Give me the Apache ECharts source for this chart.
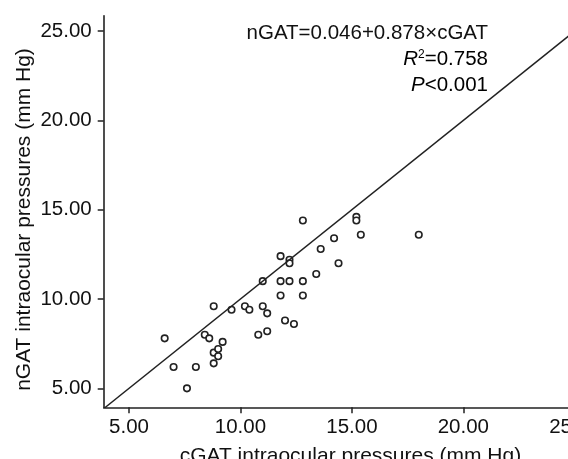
<!DOCTYPE html>
<html>
<head>
<meta charset="utf-8">
<script src="https://cdn.jsdelivr.net/npm/echarts@6/dist/echarts.min.js"></script>
<style>
html,body{margin:0;padding:0;background:#fff;}
#chart{width:568px;height:459px;}
</style>
</head>
<body>
<div id="chart"></div>
<script>
const cGAT = [6.6,7.0,7.6,8.0,8.4,8.6,8.8,8.8,9.0,9.0,8.8,9.2,9.6,10.2,10.4,11.0,11.0,11.2,10.8,11.2,11.8,12.2,12.2,11.8,12.2,12.8,11.8,12.8,12.0,12.4,12.8,13.4,13.6,14.2,14.4,15.2,15.2,15.4,18.0];
const nGAT = [7.8,6.2,5.0,6.2,8.0,7.8,9.6,7.0,7.2,6.8,6.4,7.6,9.4,9.6,9.4,11.0,9.6,9.2,8.0,8.2,12.4,12.2,12.0,11.0,11.0,11.0,10.2,10.2,8.8,8.6,14.4,11.4,12.8,13.4,12.0,14.6,14.4,13.6,13.6];
const xTicks = [5, 10, 15, 20, 25];
const yTicks = [5, 10, 15, 20, 25];
const refLine = [[3.8, 3.8], [26.5, 26.5]];
const xTitle = 'cGAT intraocular pressures (mm Hg)';
const yTitle = 'nGAT intraocular pressures (mm Hg)';
const eqText = 'nGAT=0.046+0.878×cGAT';

const FONT = '"Liberation Sans", Arial, sans-serif';
const INK = '#222';
const FS = 20.5;

const chart = echarts.init(document.getElementById('chart'), null, {renderer: 'canvas'});
const axisCommon = {
  type: 'value',
  splitLine: {show: false},
  axisLine: {show: true, lineStyle: {color: INK, width: 1.6}},
  axisTick: {show: true, length: 6, lineStyle: {color: INK, width: 1.5}},
  axisLabel: {color: '#111', fontSize: FS, fontFamily: FONT, formatter: v => v.toFixed(2)},
  nameLocation: 'middle',
  nameTextStyle: {color: '#111', fontSize: 21, fontFamily: FONT}
};
chart.setOption({
  animation: false,
  backgroundColor: '#fff',
  grid: {left: 103.7, top: 15.7, right: -29.1, bottom: 51.7, containLabel: false, outerBoundsMode: 'none'},
  xAxis: Object.assign({}, axisCommon, {
    min: 3.865, max: 26,
    name: xTitle, nameGap: 38,
    axisTick: Object.assign({}, axisCommon.axisTick, {customValues: xTicks}),
    axisLabel: Object.assign({}, axisCommon.axisLabel, {customValues: xTicks, margin: 10})
  }),
  yAxis: Object.assign({}, axisCommon, {
    min: 3.94, max: 25.86,
    name: yTitle, nameGap: 69, nameMoveOverlap: false,
    nameTextStyle: {color: '#111', fontSize: 21, fontFamily: FONT, padding: [0, 16, 0, 0]},
    axisTick: Object.assign({}, axisCommon.axisTick, {customValues: yTicks}),
    axisLabel: Object.assign({}, axisCommon.axisLabel, {customValues: yTicks, margin: 12})
  }),
  series: [
    {
      type: 'line',
      data: refLine,
      symbol: 'none',
      clip: true,
      lineStyle: {color: INK, width: 1.4},
      silent: true
    },
    {
      type: 'scatter',
      data: cGAT.map((x, i) => [x, nGAT[i]]),
      symbol: 'circle',
      symbolSize: 6.5,
      itemStyle: {color: '#fff', borderColor: INK, borderWidth: 1.6, opacity: 1}
    }
  ],
  graphic: [
    {type: 'text', x: 488, y: 33, style: {text: eqText, font: FS + 'px ' + FONT, fill: '#111', textAlign: 'right', textVerticalAlign: 'middle'}},
    {type: 'text', x: 488, y: 59, style: {
      text: '{i|R}{s|2}{n|=0.758}', textAlign: 'right', textVerticalAlign: 'middle',
      rich: {
        i: {fontSize: FS, fontFamily: FONT, fontStyle: 'italic', color: '#111'},
        s: {fontSize: 12, fontFamily: FONT, verticalAlign: 'top', color: '#111', padding: [0, 0, 7, 0]},
        n: {fontSize: FS, fontFamily: FONT, color: '#111'}
      }}},
    {type: 'text', x: 488, y: 85, style: {
      text: '{i|P}{n|<0.001}', textAlign: 'right', textVerticalAlign: 'middle',
      rich: {
        i: {fontSize: FS, fontFamily: FONT, fontStyle: 'italic', color: '#111'},
        n: {fontSize: FS, fontFamily: FONT, color: '#111'}
      }}}
  ]
});
</script>
</body>
</html>
